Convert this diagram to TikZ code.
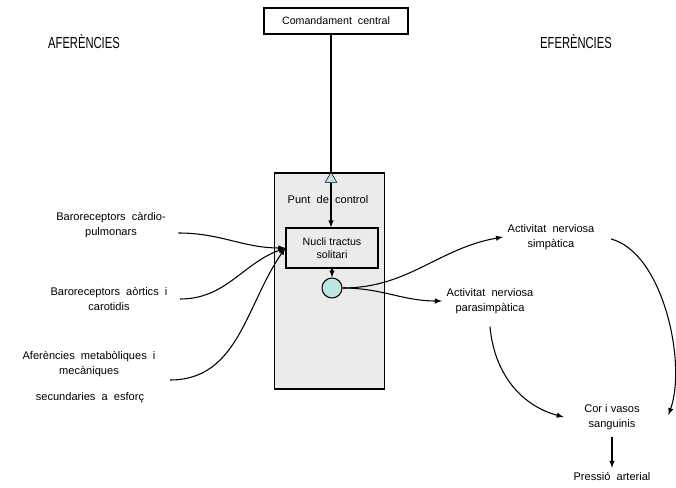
\documentclass[tikz,border=0pt]{standalone}
\usepackage{fontspec}
\setmainfont{Liberation Sans}
\newfontfamily\estret[FakeStretch=0.7]{Liberation Sans}
\usetikzlibrary{positioning}
\usetikzlibrary{arrows, shapes.geometric}
\definecolor{cel}{HTML}{BFE4E6}
\definecolor{gris}{HTML}{EBEBEB}

\begin{document}
\begin{tikzpicture}[x=0.75pt, y=-0.75pt, >=latex,
  caixa/.style = {draw, line width=0.9pt, align=center, font=\fontsize{8}{10}\selectfont},
  txt/.style = {align=center, font=\fontsize{8.3}{11.5}\selectfont},
  titol/.style = {font=\estret\fontsize{12}{14}\selectfont},
  fletxa/.style = {->, line width=0.8pt}]
\useasboundingbox (0,0) rectangle (676,488);

% titols
\node[titol] (afer) at (84,42) {AFERÈNCIES};
\node[titol] (efer) at (576,42) {EFERÈNCIES};

% centre de control
\node[caixa, minimum width=108pt, minimum height=19.5pt] (cmd) at (336,21) {Comandament\ \ central};
\node[draw, fill=gris, line width=0.9pt, minimum width=83pt, minimum height=162pt] (ctrl) at (329.5,281) {};
\node[txt] (punt) at (328,200) {Punt\ \ de\ \ control};
\node[caixa, minimum width=69pt, minimum height=30pt] (nucli) at (332,248) {Nucli tractus\\solitari};
\node[draw, regular polygon, regular polygon sides=3, fill=cel, inner sep=0pt, minimum size=10pt] (tri) at (331,179) {};
\node[draw, circle, fill=cel, line width=0.8pt, minimum size=15pt, inner sep=0pt] (circ) at (332,288) {};

\draw[line width=0.8pt] (cmd.south -| tri.north) -- (tri.north);
\draw[fletxa] (tri.south) -- (tri.south |- nucli.north);
\draw[fletxa] (nucli.south -| circ) -- (circ.north);

% aferencies
\node[txt] (bc) at (111,225) {Baroreceptors\ \ càrdio-\\pulmonars};
\node[txt] (ba) at (109,299) {Baroreceptors\ \ aòrtics\ \ i\\carotidis};
\node[txt] (am) at (89,364) {Aferències\ \ metabòliques\ \ i\\mecàniques};
\node[txt] (se) at (90,398) {secundaries\ \ a\ \ esforç};

\draw[fletxa] ([shift={(8,8)}]bc.east) to[out=0, in=180] (nucli.west);
\draw[fletxa] ([shift={(8,0)}]ba.east) to[out=0, in=200] (nucli.west);
\draw[fletxa] ([shift={(10,16)}]am.east) to[out=0, in=235] (nucli.west);

% eferencies
\node[txt] (sim) at (551,237) {Activitat\ \ nerviosa\\simpàtica};
\node[txt] (par) at (490,301) {Activitat\ \ nerviosa\\parasimpàtica};
\node[txt] (cor) at (612,417) {Cor i vasos\\sanguinis};
\node[txt, below=25pt of cor] (pa) {Pressió\ \ arterial};

\draw[fletxa] (circ.east) to[out=0, in=190] (sim.west);
\draw[fletxa] (circ.east) to[out=0, in=180] (par.west);
\draw[fletxa] ([shift={(12,2)}]sim.east) to[out=-15, in=70, looseness=0.75] ([shift={(24,-2)}]cor.east);
\draw[fletxa] ([shift={(0,8)}]par.south) to[out=-85, in=165] ([shift={(-16,0)}]cor.west);
\draw[fletxa] ([yshift=-2pt]cor.south) -- (pa.north);
\end{tikzpicture}
\end{document}
